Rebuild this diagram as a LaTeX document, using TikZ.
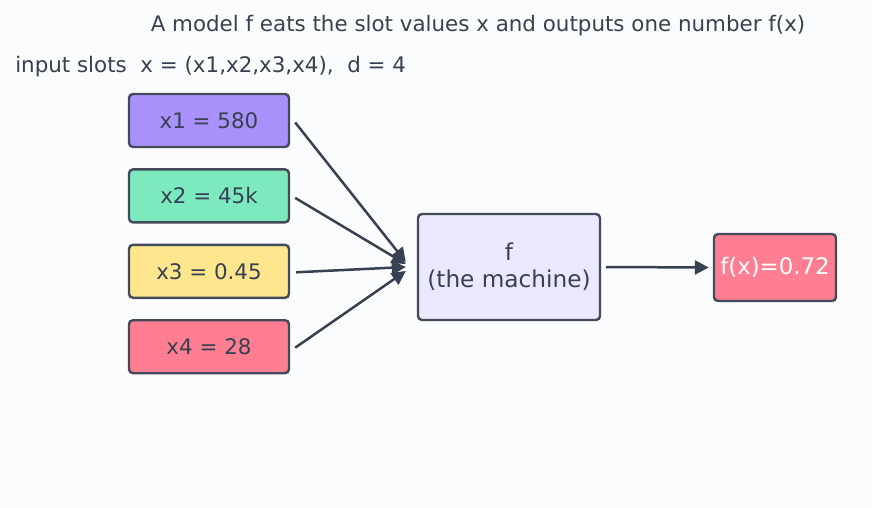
\documentclass[tikz,border=0pt]{standalone}
\usepackage{fontspec}
\setmainfont{DejaVu Sans}
\usepackage{xcolor}
\usepackage{tikz}
\usetikzlibrary{arrows.meta}
\usetikzlibrary{positioning}

\definecolor{bgc}{HTML}{FBFCFE}
\definecolor{ink}{HTML}{374151}
\definecolor{edge}{HTML}{434A5A}
\definecolor{slotA}{HTML}{A991FA}
\definecolor{slotB}{HTML}{7CE9BF}
\definecolor{slotC}{HTML}{FDE68E}
\definecolor{slotD}{HTML}{FF7E92}
\definecolor{machine}{HTML}{EBE8FE}

\begin{document}
\begin{tikzpicture}[x=1pt,y=-1pt]
    \tikzstyle{every node}=[text=ink,font=\fontsize{21.4}{25}\selectfont]
    \tikzstyle{every path}=[line width=2.5pt]
    \tikzstyle{slot}=[draw=edge,line width=2.4pt,rounded corners=4pt,minimum width=160pt,minimum height=53pt,node distance=20pt]
    \tikzstyle{feed}=[draw=ink,-{Triangle[length=14pt,width=14pt]}]

    \fill[bgc] (0,0) rectangle (872,508);
    \useasboundingbox (0,0) rectangle (872,508);

    \node (title) at (478,26) {A model f eats the slot values x and outputs one number f(x)};
    \node[anchor=west,inner sep=0pt] (slots) at (14,67) {input slots\ \ x = (x1,x2,x3,x4),\ \ d = 4};

    \node[slot,fill=slotA] (x1) at (209,120.5) {x1 = 580};
    \node[slot,fill=slotB,below=of x1] (x2) {x2 = 45k};
    \node[slot,fill=slotC,below=of x2] (x3) {x3 = 0.45};
    \node[slot,fill=slotD,below=of x3] (x4) {x4 = 28};

    \node[slot,fill=machine,minimum width=182pt,minimum height=106pt,align=center,
          font=\fontsize{23.2}{27}\selectfont] (f) at (509,267) {f\\(the machine)};
    \node[slot,fill=slotD,minimum width=122pt,minimum height=67pt,text=white,inner sep=2pt,
          font=\fontsize{22.8}{27}\selectfont] (out) at (775,267.5) {f(x)=0.72};

    \coordinate[left=11pt of f.west] (hub);

    \draw[feed] ([xshift=5pt,yshift=-2pt]x1.east) -- ([yshift=5pt]hub);
    \draw[feed] ([xshift=5pt,yshift=-2pt]x2.east) -- ([yshift=3pt]hub);
    \draw[feed] ([xshift=6pt,yshift=-1pt]x3.east) -- ([yshift=0pt]hub);
    \draw[feed] ([xshift=5pt,yshift=-1pt]x4.east) -- ([yshift=-4pt]hub);
    \draw[feed] ([xshift=5pt]f.east) -- ([xshift=-4pt]out.west);

  \end{tikzpicture}
\end{document}
